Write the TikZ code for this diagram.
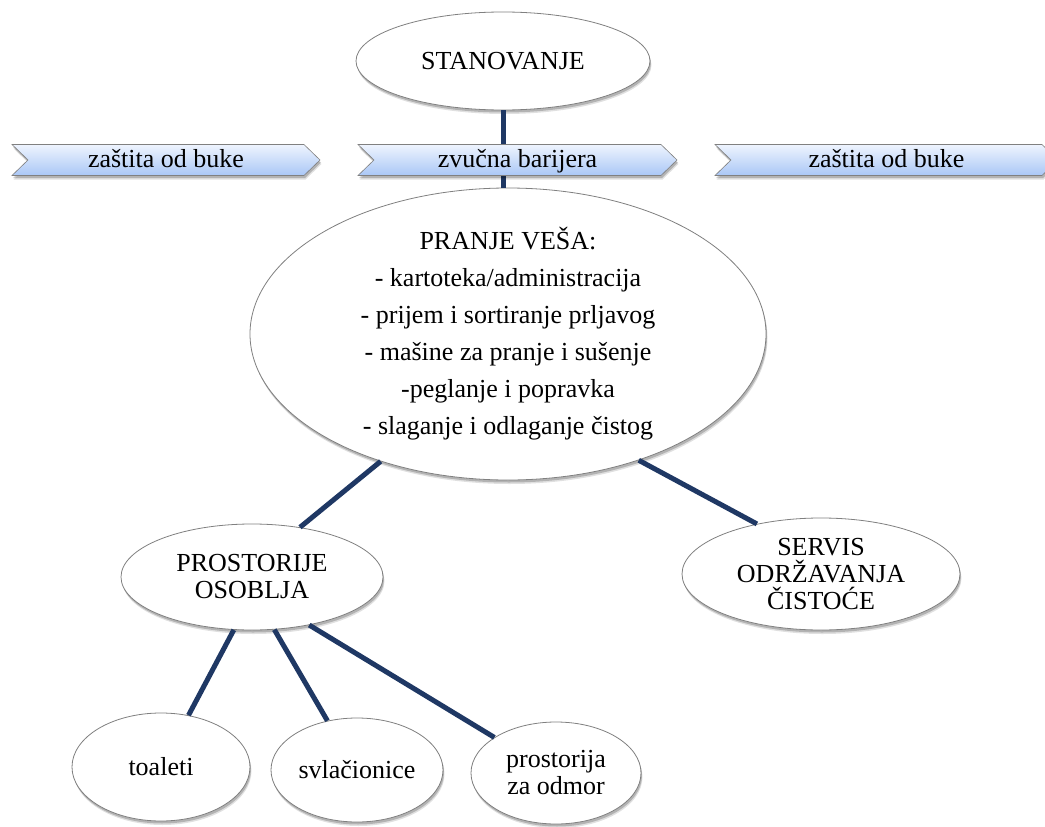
\documentclass[tikz,border=0pt]{standalone}
\usepackage{fontspec}
\setmainfont{Liberation Serif}
\usetikzlibrary{shapes.geometric,shadows}
\definecolor{linknavy}{RGB}{31,56,100}
\definecolor{rimgray}{RGB}{128,128,128}
\definecolor{bannertop}{RGB}{238,244,254}
\definecolor{bannerbot}{RGB}{170,199,246}

\begin{document}
\begin{tikzpicture}[x=1pt,y=-1pt,
  softshadow/.style={
      drop shadow={shadow xshift=1.5pt, shadow yshift=-4pt, opacity=0.12, fill=black},
      drop shadow={shadow xshift=1pt, shadow yshift=-2.5pt, opacity=0.2, fill=black}},
  blob/.style={ellipse, draw=rimgray, line width=0.8pt, fill=white,
      inner sep=0pt, align=center, softshadow,
      font=\fontsize{26}{27}\selectfont},
  words/.style={align=center, inner sep=0pt,
      font=\fontsize{26}{37}\selectfont},
  banner/.style={rectangle, inner sep=0pt, minimum height=31pt,
      text height=18pt, text depth=5.5pt,
      font=\fontsize{26}{27}\selectfont},
  bannerpaint/.style={draw=rimgray, line width=0.6pt,
      top color=bannertop, bottom color=bannerbot, softshadow},
  link/.style={draw=linknavy, line width=5pt}
]
\fill[white] (0,0) rectangle (1045,827);
\clip (0,0) rectangle (1045,827);

% ellipses
\node[blob, minimum width=294pt, minimum height=98pt] (stan) at (503,61) {STANOVANJE};
\node[blob, minimum width=516pt, minimum height=292pt] (pranje) at (508,334) {};
\node[words] (pranjetxt) at (pranje.center) {PRANJE VEŠA:\\
  - kartoteka/administracija\\
  - prijem i sortiranje prljavog\\
  - mašine za pranje i sušenje\\
  -peglanje i popravka\\
  - slaganje i odlaganje čistog};
\node[blob, minimum width=262pt, minimum height=106pt] (osoblje) at (252,577) {PROSTORIJE\\OSOBLJA};
\node[blob, minimum width=278pt, minimum height=112pt] (servis) at (821,574) {SERVIS\\ODRŽAVANJA\\ČISTOĆE};
\node[blob, minimum width=178pt, minimum height=108pt] (toaleti) at (161,767) {toaleti};
\node[blob, minimum width=172pt, minimum height=104pt] (svlac) at (357,770) {svlačionice};
\node[blob, minimum width=170pt, minimum height=102pt] (odmor) at (556,773) {prostorija\\za odmor};

% connectors
\draw[link] (stan.south) -- (stan.south |- pranje.north);
\draw[link] (pranje.225) -- (osoblje.46);
\draw[link] (pranje.316) -- (servis.142);
\draw[link] (osoblje.251) -- (toaleti.62);
\draw[link] (osoblje.293) -- (svlac.121);
\draw[link] (osoblje.320) -- (odmor.150);

% noise barriers: chevron strips with a notched tail and a pointed head
\foreach \nm/\cx/\bw/\tx in {bukeleft/166/308/{zaštita od buke},
                              barijera/517.5/319/{zvučna barijera},
                              bukeright/886.5/343/{zaštita od buke}}{
  \path[bannerpaint]
    (\cx-\bw/2, 144.5) -- (\cx+\bw/2-16, 144.5) -- (\cx+\bw/2, 160)
    -- (\cx+\bw/2-16, 175.5) -- (\cx-\bw/2, 175.5) -- (\cx-\bw/2+16, 160) -- cycle;
  \node[banner, minimum width=\bw pt] (\nm) at (\cx,161) {\tx};
}
\end{tikzpicture}
\end{document}
